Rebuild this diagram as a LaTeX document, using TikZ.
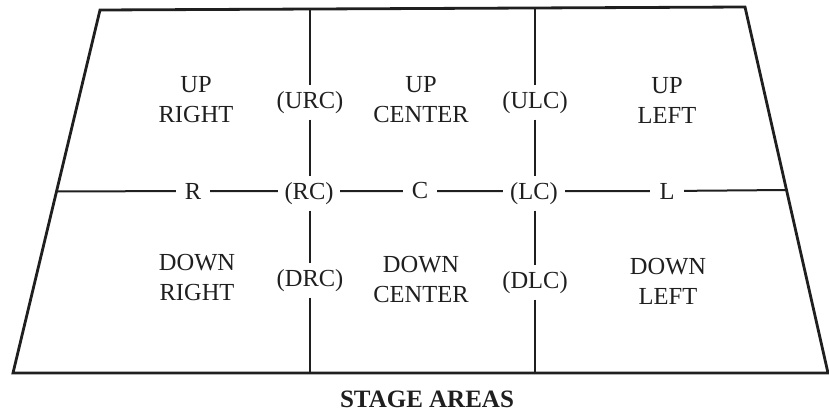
\documentclass[tikz,border=0pt]{standalone}
\usepackage{fontspec}
\setmainfont{Liberation Serif}
\usetikzlibrary{calc}
\begin{document}
\begin{tikzpicture}[x=1pt,y=-1pt,
  ink/.style={draw=black!88},
  frame/.style={ink,line width=2.8pt,line join=miter},
  divider/.style={ink,line width=2pt},
  area/.style={align=center,font=\fontsize{24.5}{30}\selectfont,text=black!88},
  spot/.style={font=\fontsize{24.5}{30}\selectfont,text=black!88,inner sep=0pt},
  hmark/.style={spot,minimum width=34pt},
  vmark/.style={spot,minimum height=34pt},
  cmark/.style={spot,minimum width=62pt,minimum height=34pt}]
\useasboundingbox (0,0) rectangle (829,412);

% stage outline (trapezoid)
\coordinate (TL) at (100,10);
\coordinate (TR) at (745,7);
\coordinate (BR) at (828,373);
\coordinate (BL) at (13,373);
\draw[frame] (TL) -- (TR) -- (BR) -- (BL) -- cycle;

% ends of the center line and of the two vertical dividers
\coordinate (ML) at ($(TL)!0.5!(BL)$);
\coordinate (MR) at ($(TR)!0.5!(BR)$);
\coordinate (T1) at (310,9.3);
\coordinate (B1) at (310,373);
\coordinate (T2) at (535,8.2);
\coordinate (B2) at (535,373);

% labels along the center line
\node[hmark] (R)  at (193,191) {R};
\node[cmark] (RC) at (309,193.5) {(RC)};
\node[hmark] (C)  at (420,191) {C};
\node[cmark] (LC) at (534,193.5) {(LC)};
\node[hmark] (L)  at (667,191) {L};

% labels on the vertical dividers
\node[vmark] (URC) at (310,102.5) {(URC)};
\node[vmark] (DRC) at (310,280.5) {(DRC)};
\node[vmark] (ULC) at (535,102.5) {(ULC)};
\node[vmark] (DLC) at (535,282.5) {(DLC)};

% center line
\draw[divider] (ML) -- (R) -- (RC.west |- R) (RC.east |- C) -- (C) -- (LC.west |- C) (LC.east |- L) -- (L) -- (MR);
% dividers
\draw[divider] (T1) -- (URC) (URC.south) -- (RC.north -| URC) (RC.south -| DRC) -- (DRC) (DRC.south) -- (B1);
\draw[divider] (T2) -- (ULC) (ULC.south) -- (LC.north -| ULC) (LC.south -| DLC) -- (DLC) (DLC.south) -- (B2);

% area names
\node[area] (UR) at (196,100) {UP\\RIGHT};
\node[area] (UC) at (421,100) {UP\\CENTER};
\node[area] (UL) at (667,100) {UP\\LEFT};
\node[area] (DR) at (197,278) {DOWN\\RIGHT};
\node[area] (DC) at (421,280) {DOWN\\CENTER};
\node[area] (DL) at (668,281) {DOWN\\LEFT};

% caption
\node[spot,font=\fontsize{25}{30}\selectfont\bfseries] (cap) at (427,399) {STAGE AREAS};
\end{tikzpicture}
\end{document}
